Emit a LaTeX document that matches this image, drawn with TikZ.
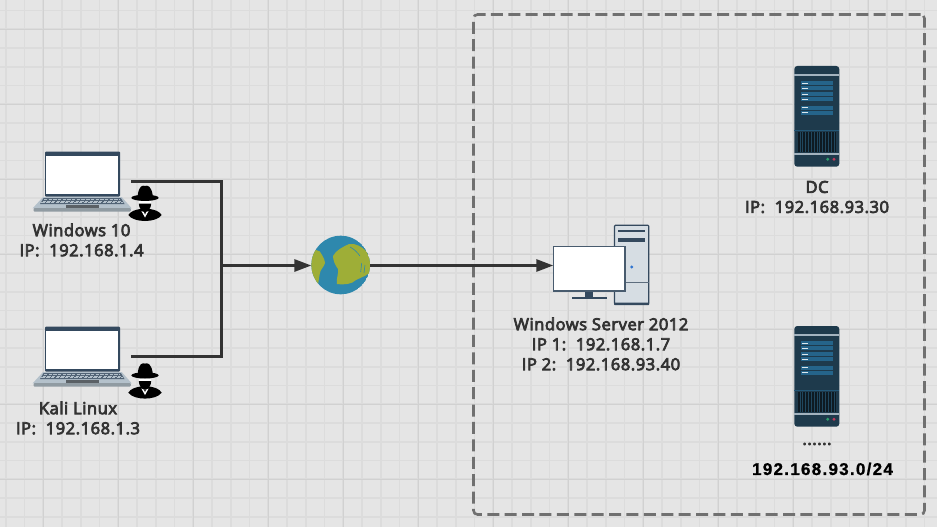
\documentclass[tikz,border=0pt]{standalone}
\usepackage{fontspec}
\setmainfont{Open Sans}[FakeBold=4.5,LetterSpace=3.4]
\newfontfamily\numfont{Liberation Sans Bold}[LetterSpace=7.5,FakeBold=1]
\usetikzlibrary{arrows.meta}
\definecolor{bgc}{HTML}{E5E5E5}
\definecolor{gridmin}{HTML}{DCDCDC}
\definecolor{gridmaj}{HTML}{D1D1D1}
\definecolor{ink}{HTML}{333333}
\definecolor{frameblue}{HTML}{34495E}
\definecolor{basegrey}{HTML}{B4C1CB}
\definecolor{towerfill}{HTML}{D6DDE3}
\definecolor{rackdark}{HTML}{1E3A4C}
\definecolor{rackpanel}{HTML}{25648A}
\definecolor{racklight}{HTML}{A3B3BF}
\definecolor{globeblue}{HTML}{2E88AD}
\definecolor{globegreen}{HTML}{9EAE37}
\definecolor{ledgreen}{HTML}{2E9E6B}
\definecolor{ledred}{HTML}{C0395A}
\definecolor{ledblue}{HTML}{2F74D0}
\tikzset{
  label/.style={text=ink,font=\fontsize{16.5}{20}\selectfont,align=center,inner sep=0pt},
  wire/.style={draw=ink,line width=2.8pt},
  arrowwire/.style={draw=ink,line width=2.8pt,-{Triangle[length=17pt,width=12pt]}},
  zone/.style={draw=black!56,line width=2.6pt,rounded corners=4pt,dash pattern=on 12pt off 5.4pt},
}
\newcommand{\laptopicon}[1]{%
\begin{scope}[shift={#1}]
  \fill[frameblue,rounded corners=0.8pt] (45,151.7) rectangle (120,196.5);
  \fill[white] (46.3,155.7) rectangle (117.7,194.3);
  \fill[basegrey] (43,197) -- (121.7,197) -- (131.7,208.3) -- (32.7,208.3) -- cycle;
  \fill[basegrey!80!black,rounded corners=1pt] (33.5,208) rectangle (130.8,211.5);
  \fill[frameblue!85!white] (43.5,198.2) -- (121,198.2) -- (124.5,204) -- (40,204) -- cycle;
  \foreach \r/\yy/\xa/\xb in {0/199.2/43.8/120.4,1/201/42.6/121.8,2/202.8/41.4/123}{
    \draw[basegrey,line width=0.8pt,dash pattern=on 3.4pt off 1.3pt] (\xa,\yy) -- (\xb,\yy);
  }
  \fill[black!50!basegrey] (66,205) rectangle (99.3,208);
\end{scope}}
\newcommand{\spyicon}[1]{%
\begin{scope}[shift={#1}]
  \fill[black] (-7.5,-4) .. controls (-7.5,-13) and (-5,-18.3) .. (-2,-18.3)
     .. controls (-1,-18.3) and (1,-17.5) .. (2,-18.3)
     .. controls (5,-18.3) and (8,-13) .. (8,-4) -- cycle;
  \fill[black] (0,-6.2) ellipse [x radius=13.7,y radius=3.1];
  \fill[white] (-6.2,-3) rectangle (6.2,0.5);
  \fill[black] (-6.2,-0.5) -- (6.2,-0.5) .. controls (6.2,4) and (3,8) .. (0,8)
     .. controls (-3,8) and (-6.2,4) .. (-6.2,-0.5) -- cycle;
  \fill[black] (-16.7,11) .. controls (-14,7) and (-10,6) .. (-5,5) -- (5,5)
     .. controls (10,6) and (14,7) .. (16.7,11)
     .. controls (14,15) and (7,17) .. (0,17) .. controls (-7,17) and (-14,15) .. (-16.7,11) -- cycle;
  \fill[white] (-3.6,7) -- (-1.2,8) -- (1.2,8) -- (3.6,7) -- (0,13.5) -- cycle;
  \fill[black] (-1,8) -- (1,8) -- (0,10.5) -- cycle;
\end{scope}}
\newcommand{\rackicon}[1]{%
\begin{scope}[shift={#1}]
  \fill[rackdark,rounded corners=3pt] (794.3,66) rectangle (839.3,166.7);
  \fill[racklight] (794.3,74.4) rectangle (839.3,75.9);
  \foreach \yy in {81,86,92.3,97,105.7,110.6}{
    \fill[rackpanel] (801,\yy) rectangle (833,\yy+4);
    \fill[white!85!rackpanel] (801.7,\yy+1.5) rectangle (807.7,\yy+2.5);
  }
  \fill[rackpanel!70!rackdark] (794.3,130) rectangle (839.3,130.8);
  \fill[black!55!rackdark] (798,131.7) rectangle (836,152.3);
  \foreach \i in {0,...,12}{
    \fill[rackdark!70!rackpanel] (799.5+\i*2.85,131.7) rectangle (800.4+\i*2.85,152.3);
  }
  \fill[racklight] (794.3,153) rectangle (839.3,154.5);
  \fill[ledgreen] (827.7,159.3) circle (1.6);
  \fill[ledred] (834,159.3) circle (1.6);
\end{scope}}
\begin{document}
\begin{tikzpicture}[x=1pt,y=-1pt]
  \useasboundingbox (0,0) rectangle (937,527);
  \fill[bgc] (0,0) rectangle (937,527);
  % grid
  \foreach \k in {0,...,49}{
    \draw[gridmin,line width=1.6pt] ({5.75+\k*18.75},0) -- ({5.75+\k*18.75},527);
  }
  \foreach \k in {0,...,28}{
    \draw[gridmin,line width=1.6pt] (0,{10.5+\k*18.75}) -- (937,{10.5+\k*18.75});
  }
  \foreach \k in {0,...,12}{
    \draw[gridmaj,line width=1.3pt] ({43.5+\k*75},0) -- ({43.5+\k*75},527);
  }
  \foreach \k in {0,...,6}{
    \draw[gridmaj,line width=1.3pt] (0,{29.3+\k*75}) -- (937,{29.3+\k*75});
  }
  % dashed zone
  \node[inner sep=0pt,outer sep=0pt,minimum width=451pt,minimum height=500pt,zone] (zonebox) at (699,264.5) {};
  % anchors
  \node[inner sep=0pt,outer sep=0pt,minimum width=98pt,minimum height=61pt] (win) at (82,181.5) {};
  \node[inner sep=0pt,outer sep=0pt,minimum width=98pt,minimum height=61pt] (kali) at (82,356.5) {};
  \node[inner sep=0pt,outer sep=0pt,minimum width=96pt,minimum height=80pt] (server) at (601.3,265.5) {};
  \node[inner sep=0pt,outer sep=0pt,minimum size=58.6pt,circle] (globe) at (340.7,265.5) {};
  \coordinate (junction) at (221.3,265.5);
  % icons
  \laptopicon{(0,0)}
  \laptopicon{(0,175)}
  \spyicon{(145,204)}
  \spyicon{(145,381.6)}
  % globe
  \begin{scope}
    \clip (340.7,265) circle (29.3);
    \fill[globeblue] (340.7,265) circle (29.3);
    \fill[globegreen] (316,250) .. controls (319,250) and (321,252) .. (322,255)
       .. controls (324,258) and (325,262) .. (325,263)
       .. controls (324,267) and (320,270) .. (320,273)
       .. controls (319,277) and (319,280) .. (318,284) -- (305,284) -- (305,250) -- cycle;
    \fill[globegreen] (333,256) .. controls (336,250) and (343,247) .. (349,244)
       .. controls (356,243) and (362,247) .. (366,251)
       .. controls (370,257) and (371,264) .. (372,270)
       .. controls (369,275) and (362,277) .. (356,280)
       .. controls (352,284) and (345,285) .. (337,284)
       .. controls (336,278) and (339,273) .. (338,269)
       .. controls (335,265) and (333,260) .. (333,256) -- cycle;
    \draw[globeblue,line width=0.6pt] (350,247) .. controls (354,249) and (357,252) .. (360,256);
    \draw[globeblue,line width=0.6pt] (361.7,263) -- (360.7,272);
    \draw[globeblue,line width=0.6pt] (365,265) -- (364,273);
  \end{scope}
  % server
  \fill[towerfill,draw=frameblue,line width=1.2pt,rounded corners=1pt] (614.5,225.2) rectangle (648.8,304);
  \fill[frameblue,rounded corners=0.6pt] (614,302.5) rectangle (649.2,305);
  \fill[frameblue] (618.3,229.7) rectangle (645,231.7);
  \fill[frameblue] (618.3,237.7) rectangle (645,242.3);
  \draw[frameblue!80!white,line width=0.7pt] (614.5,282.3) -- (648.8,282.3);
  \fill[ledblue] (631.7,267) circle (1.7);
  \fill[frameblue] (585.3,291) rectangle (592.7,297.5);
  \fill[frameblue] (571.7,297.3) rectangle (606.7,299);
  \fill[white,draw=frameblue!90!white,line width=1.2pt] (553.5,246.7) rectangle (625,291);
  % racks
  \rackicon{(0,0)}
  \rackicon{(0,260)}
  % connectors
  \draw[wire] (win.east) -| (junction);
  \draw[wire] (kali.east) -| (junction);
  \draw[arrowwire] (junction) -- (globe.west);
  \draw[arrowwire] (globe.east) -- (server.west);
  % labels
  \node[label] (winlabel) at (81.5,240) {Windows 10\\IP:\ \ 192.168.1.4};
  \node[label] (kalilabel) at (78,418) {Kali Linux\\IP:\ \ 192.168.1.3};
  \node[label] (serverlabel) at (601,344) {Windows Server 2012\\IP 1:\ \ 192.168.1.7\\IP 2:\ \ 192.168.93.40};
  \node[label] (dclabel) at (817,197) {DC\\IP:\ \ 192.168.93.30};
  \node[label] (dotslabel) at (817,444) {......};
  \node[text=black,inner sep=0pt,font=\numfont\fontsize{17}{18}\selectfont] (netlabel) at (822.5,469) {192.168.93.0/24};
\end{tikzpicture}
\end{document}
